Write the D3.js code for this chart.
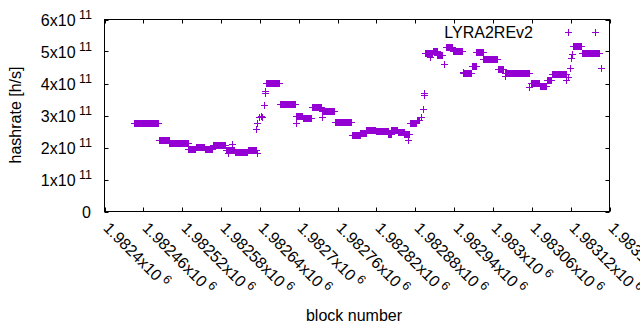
<!DOCTYPE html>
<html>
<head>
<meta charset="utf-8">
<script src="https://cdn.jsdelivr.net/npm/d3@7/dist/d3.min.js"></script>
<style>
  html, body { margin: 0; padding: 0; background: #fff; }
  svg { display: block; font-family: "Liberation Sans", Arial, sans-serif; }
</style>
</head>
<body>
<svg id="chart" width="640" height="330"></svg>
<script>
// ---- data ----
const seriesName = "LYRA2REv2";
const blockBase = 1982400;

// runs of consecutive blocks with a constant hashrate estimate (block offsets from blockBase)
const runStart = [47, 85, 101, 130, 142, 156, 168, 188, 202, 222, 250, 272, 297, 307, 321, 337, 357, 383, 396, 405, 420, 439, 444, 454, 464, 472, 483, 496, 508, 515, 528, 539, 555, 568, 575, 586, 608, 620, 659, 673, 684, 692, 725, 738];
const runEnd   = [84, 100, 129, 141, 155, 167, 187, 201, 221, 234, 271, 295, 306, 320, 335, 356, 382, 395, 404, 419, 438, 443, 453, 463, 469, 482, 487, 507, 514, 522, 538, 553, 567, 574, 585, 607, 616, 656, 672, 683, 691, 713, 737, 765];
const runValue = [2.74e11, 2.21e11, 2.125e11, 1.93e11, 2.0e11, 1.93e11, 2.06e11, 1.9e11, 1.85e11, 1.9e11, 3.99e11, 3.33e11, 2.97e11, 2.92e11, 3.26e11, 3.12e11, 2.79e11, 2.37e11, 2.44e11, 2.53e11, 2.5e11, 2.42e11, 2.53e11, 2.48e11, 2.4e11, 2.74e11, 2.85e11, 4.95e11, 5.0e11, 4.87e11, 5.12e11, 4.99e11, 4.3e11, 4.54e11, 4.97e11, 4.76e11, 4.44e11, 4.31e11, 4.0e11, 3.92e11, 4.1e11, 4.27e11, 5.15e11, 4.93e11];

// single scattered points (block offsets from blockBase)
const pointBlock = [192, 197, 236, 235, 237, 240, 242, 244, 247, 248, 249, 296, 336, 383, 470, 471, 489, 492, 494, 495, 504, 525, 554, 619, 657, 678, 714, 716, 717, 719, 722, 723, 768];
const pointValue = [1.8e11, 2.1e11, 1.8e11, 2.55e11, 2.74e11, 2.93e11, 2.97e11, 2.95e11, 3.31e11, 3.68e11, 3.75e11, 2.76e11, 2.93e11, 2.36e11, 2.22e11, 2.4e11, 2.93e11, 3.18e11, 3.63e11, 3.68e11, 4.82e11, 4.59e11, 4.33e11, 4.22e11, 3.88e11, 3.92e11, 4.09e11, 5.58e11, 4.2e11, 4.46e11, 4.77e11, 4.9e11, 4.48e11];

const xTickValues = [1982400, 1982460, 1982520, 1982580, 1982640, 1982700, 1982760, 1982820, 1982880, 1982940, 1983000, 1983060, 1983120, 1983180];
const xTickLabels = ["1.9824", "1.98246", "1.98252", "1.98258", "1.98264", "1.9827", "1.98276", "1.98282", "1.98288", "1.98294", "1.983", "1.98306", "1.98312", "1.98318"];
const yTickValues = [0, 1e11, 2e11, 3e11, 4e11, 5e11, 6e11];
const yTickMantissa = ["0", "1", "2", "3", "4", "5", "6"];

// ---- build point list ----
const points = [];
runStart.forEach((s, i) => {
  for (let b = s; b <= runEnd[i]; b++) points.push({ block: blockBase + b, value: runValue[i] });
});
pointBlock.forEach((b, i) => points.push({ block: blockBase + b, value: pointValue[i] }));

// ---- layout ----
const svg = d3.select("#chart");
const L = 104.5, R = 609.5, T = 19.5, B = 211.5;
const color = "#9400d3";
const fontSize = 16, supSize = 12.5;

const x = d3.scaleLinear().domain([1982400, 1983180]).range([L, R]);
const y = d3.scaleLinear().domain([0, 6e11]).range([B, T]);
const snap = v => Math.round(v - 0.5) + 0.5;

// points
const plus = "M-3.5,0H3.5M0,-3.5V3.5";
svg.append("g").selectAll("path").data(points).join("path")
  .attr("d", plus)
  .attr("transform", d => `translate(${snap(x(d.block))},${snap(y(d.value))})`)
  .attr("fill", "none").attr("stroke", color).attr("stroke-width", 1);

// axes (ticks inward, mirrored)
const tickLen = 4;
const axL = d3.axisRight(y).tickValues(yTickValues).tickSize(tickLen).tickFormat("");
const axR = d3.axisLeft(y).tickValues(yTickValues).tickSize(tickLen).tickFormat("");
const axB = d3.axisTop(x).tickValues(xTickValues).tickSize(tickLen).tickFormat("");
const axT = d3.axisBottom(x).tickValues(xTickValues).tickSize(tickLen).tickFormat("");
[[axL, `translate(${L},0)`], [axR, `translate(${R},0)`], [axB, `translate(0,${B})`], [axT, `translate(0,${T})`]].forEach(([ax, tr]) => {
  const g = svg.append("g").attr("transform", tr).call(ax);
  g.select(".domain").remove();
  g.selectAll(".tick line").attr("stroke", "#000").attr("stroke-width", 1);
});
svg.selectAll(".tick").attr("transform", function () {
  const t = d3.select(this).attr("transform");
  const m = /translate\(([^,]+),([^)]+)\)/.exec(t);
  return `translate(${m[1] == 0 ? 0 : snap(+m[1])},${m[2] == 0 ? 0 : snap(+m[2])})`;
});

// border
svg.append("rect").attr("x", L).attr("y", T).attr("width", R - L).attr("height", B - T)
  .attr("fill", "none").attr("stroke", "#000").attr("stroke-width", 1);

// y tick labels
yTickValues.forEach((v, i) => {
  const t = svg.append("text").attr("x", 92).attr("y", snap(y(v)) + 6)
    .attr("text-anchor", "end").attr("font-size", fontSize).attr("fill", "#000");
  if (v === 0) { t.attr("x", 91).text("0"); return; }
  t.append("tspan").text(yTickMantissa[i] + "x10");
  t.append("tspan").attr("dy", -7).attr("font-size", supSize).text(" 11");
});

// x tick labels (rotated)
xTickValues.forEach((v, i) => {
  const px = snap(x(v)) - 2, py = 229;
  const t = svg.append("text").attr("transform", `translate(${px},${py}) rotate(45)`)
    .attr("font-size", fontSize).attr("fill", "#000");
  t.append("tspan").text(xTickLabels[i] + "x10");
  t.append("tspan").attr("dy", -6).attr("font-size", supSize).text(" 6");
});

// axis titles
svg.append("text").attr("x", 354).attr("y", 321).attr("text-anchor", "middle")
  .attr("font-size", fontSize).text("block number");
svg.append("text").attr("transform", "translate(21,115) rotate(-90)").attr("text-anchor", "middle")
  .attr("font-size", fontSize).text("hashrate [h/s]");

// legend
svg.append("text").attr("x", 533).attr("y", 38).attr("text-anchor", "end")
  .attr("font-size", fontSize).text(seriesName);
svg.append("path").attr("d", plus).attr("transform", "translate(595.5,32.5)")
  .attr("fill", "none").attr("stroke", color).attr("stroke-width", 1);
</script>
</body>
</html>
